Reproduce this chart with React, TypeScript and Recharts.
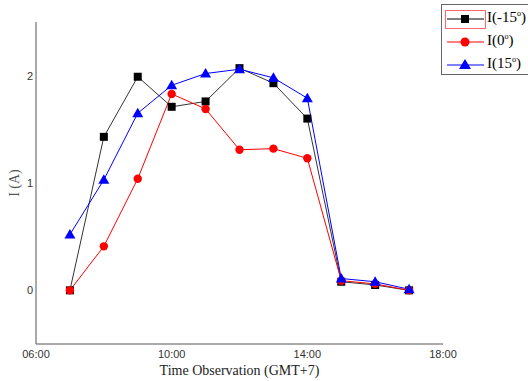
import { LineChart, Line, XAxis, YAxis, Label } from "recharts";

const hours = [7, 8, 9, 10, 11, 12, 13, 14, 15, 16, 17];
const iMinus15 = [0.0, 1.43, 1.99, 1.71, 1.76, 2.07, 1.93, 1.6, 0.08, 0.05, 0.0];
const i0 = [0.0, 0.41, 1.04, 1.83, 1.69, 1.31, 1.32, 1.23, 0.09, 0.06, 0.0];
const i15 = [0.52, 1.03, 1.65, 1.91, 2.02, 2.06, 1.98, 1.79, 0.11, 0.08, 0.01];
const xTicks = [6, 10, 14, 18];
const yTicks = [0, 1, 2];

const data = hours.map((h, i) => ({ h, a: iMinus15[i], b: i0[i], c: i15[i] }));

const fmtHour = (v: number) => `${String(v).padStart(2, "0")}:00`;

const Square = (p: any) => (
  <rect key={p.index} x={p.cx - 4} y={p.cy - 4} width={8} height={8} fill="#000" />
);
const Circle = (p: any) => (
  <circle key={p.index} cx={p.cx} cy={p.cy} r={4.2} fill="#ff0000" />
);
const Tri = (p: any) => (
  <polygon
    key={p.index}
    points={`${p.cx},${p.cy - 5.5} ${p.cx - 5.5},${p.cy + 4} ${p.cx + 5.5},${p.cy + 4}`}
    fill="#0000ff"
  />
);

const items = [
  { label: "I(-15", color: "#000", shape: "sq" },
  { label: "I(0", color: "#ff0000", shape: "ci" },
  { label: "I(15", color: "#0000ff", shape: "tr" },
];

function LegendBox() {
  return (
    <div
      style={{
        position: "absolute",
        left: 441,
        top: 4,
        width: 88,
        height: 71,
        border: "1px solid #666",
        background: "#fff",
        fontFamily: "'Liberation Serif', serif",
        fontSize: 15,
        color: "#000",
        boxSizing: "border-box",
      }}
    >
      {items.map((it, i) => (
        <div
          key={it.label}
          style={{ position: "absolute", left: 3, top: 4 + i * 23, height: 20, width: 86 }}
        >
          {i === 0 && (
            <div
              style={{
                position: "absolute",
                left: 0,
                top: 1,
                width: 39,
                height: 17,
                border: "1px solid #ff6666",
              }}
            />
          )}
          <svg width={40} height={20} style={{ position: "absolute", left: 1, top: 0 }}>
            <line x1={1} y1={10} x2={38} y2={10} stroke={it.color} strokeWidth={1} />
            {it.shape === "sq" && <rect x={15} y={6} width={8} height={8} fill="#000" />}
            {it.shape === "ci" && <circle cx={19} cy={10} r={4.5} fill="#ff0000" />}
            {it.shape === "tr" && <polygon points="19,4 13,14 25,14" fill="#0000ff" />}
          </svg>
          <span style={{ position: "absolute", left: 42, top: 0, whiteSpace: "nowrap" }}>
            {it.label}
            <sup style={{ fontSize: 8 }}>o</sup>)
          </span>
        </div>
      ))}
    </div>
  );
}

export default function App() {
  return (
    <div style={{ position: "absolute", left: 0, top: 0, width: 528, height: 381, background: "#fff" }}>
      <LineChart width={528} height={381} data={data} margin={{ top: 22, right: 85, bottom: 0, left: 0 }}>
        <XAxis
          dataKey="h"
          type="number"
          domain={[6, 18]}
          ticks={xTicks}
          tickFormatter={fmtHour}
          height={37}
          stroke="#555"
          tickLine={false}
          tick={{ fill: "#333", fontSize: 11, fontFamily: "'Liberation Sans', Arial, sans-serif" }}
          tickMargin={0}
        >
          <Label
            value="Time Observation (GMT+7)"
            position="insideBottom"
            offset={6}
            style={{ fill: "#222", fontSize: 14, fontFamily: "'Liberation Serif', serif" }}
          />
        </XAxis>
        <YAxis
          type="number"
          domain={[-0.5, 2.5]}
          ticks={yTicks}
          width={36}
          stroke="#555"
          tickLine={false}
          tickSize={0}
          tick={{ fill: "#333", fontSize: 11, fontFamily: "'Liberation Sans', Arial, sans-serif" }}
          tickMargin={3}
        >
          <Label
            value="I (A)"
            angle={-90}
            position="insideLeft"
            offset={14}
            style={{ fill: "#555", fontSize: 14, fontFamily: "'Liberation Serif', serif", textAnchor: "middle" }}
          />
        </YAxis>
        <Line dataKey="a" stroke="#333" strokeWidth={1} dot={Square} isAnimationActive={false} />
        <Line dataKey="b" stroke="#ff0000" strokeWidth={1} dot={Circle} isAnimationActive={false} />
        <Line dataKey="c" stroke="#0000ff" strokeWidth={1} dot={Tri} isAnimationActive={false} />
      </LineChart>
      <LegendBox />
    </div>
  );
}
